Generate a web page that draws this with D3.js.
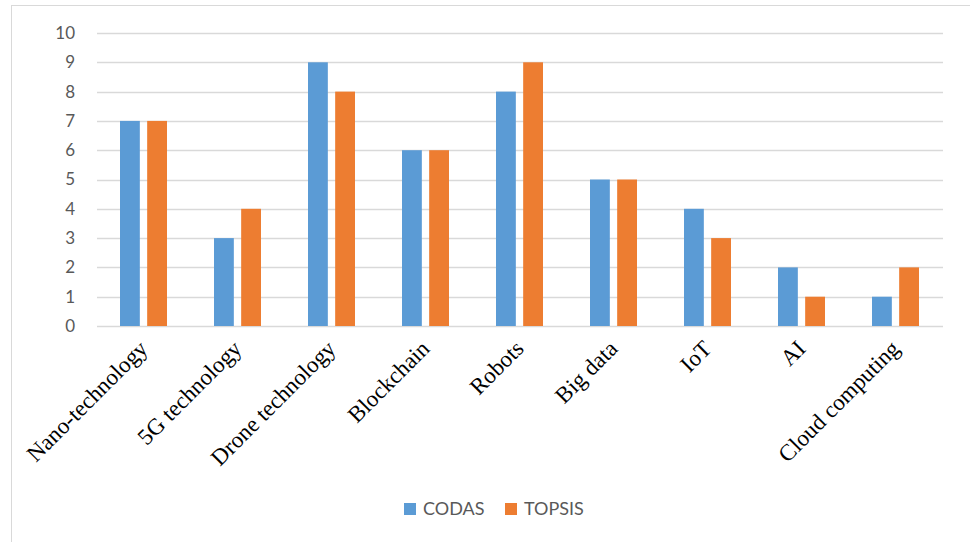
<!DOCTYPE html>
<html>
<head>
<meta charset="utf-8">
<script src="https://cdnjs.cloudflare.com/ajax/libs/d3/7.8.5/d3.min.js"></script>
<style>
  body { margin: 0; background: #fff; }
  svg { display: block; }
</style>
</head>
<body>
<div id="chart"></div>
<script>
var categories = ["Nano-technology", "5G technology", "Drone technology", "Blockchain", "Robots", "Big data", "IoT", "AI", "Cloud computing"];
var seriesNames = ["CODAS", "TOPSIS"];
var codas = [7, 3, 9, 6, 8, 5, 4, 2, 1];
var topsis = [7, 4, 8, 6, 9, 5, 3, 1, 2];
var yTicks = [0, 1, 2, 3, 4, 5, 6, 7, 8, 9, 10];
var colors = ["#5B9BD5", "#ED7D31"];

var width = 970, height = 542;
var margin = { top: 33, left: 97, right: 27, bottom: 216 };

var svg = d3.select("#chart").append("svg")
  .attr("width", width)
  .attr("height", height);

// outer chart border
svg.append("rect")
  .attr("x", 11.5).attr("y", 5.5)
  .attr("width", 1000).attr("height", 600)
  .attr("fill", "none")
  .attr("stroke", "#d9d9d9");

var plotW = width - margin.left - margin.right,
    plotH = height - margin.top - margin.bottom;

var g = svg.append("g")
  .attr("transform", "translate(" + margin.left + "," + margin.top + ")");

var x = d3.scaleBand().domain(categories).range([0, plotW]);
var x1 = d3.scaleBand().domain(seriesNames).range([23, x.bandwidth() - 24]).paddingInner(0.27);
var y = d3.scaleLinear().domain([0, 10]).range([plotH, 0]);

// gridlines
g.selectAll(".grid")
  .data(yTicks)
  .enter().append("line")
  .attr("x1", 0).attr("x2", plotW)
  .attr("y1", function(d) { return Math.round(y(d)) + 0.5; })
  .attr("y2", function(d) { return Math.round(y(d)) + 0.5; })
  .attr("stroke", "#d9d9d9")
  .attr("stroke-width", 1.3);

// y labels
g.selectAll(".ylab")
  .data(yTicks)
  .enter().append("text")
  .attr("x", -22)
  .attr("y", function(d) { return y(d); })
  .attr("dy", "0.35em")
  .attr("text-anchor", "end")
  .attr("font-family", "Lato, 'Open Sans', sans-serif")
  .attr("font-size", 17)
  .attr("fill", "#595959")
  .text(function(d) { return d; });

var data = categories.map(function(c, i) {
  return { cat: c, values: [codas[i], topsis[i]] };
});

var groups = g.selectAll(".grp")
  .data(data)
  .enter().append("g")
  .attr("transform", function(d) { return "translate(" + x(d.cat) + ",0)"; });

groups.selectAll("rect")
  .data(function(d) { return d.values.map(function(v, j) { return { s: seriesNames[j], v: v, j: j }; }); })
  .enter().append("rect")
  .attr("x", function(d) { return x1(d.s); })
  .attr("width", x1.bandwidth())
  .attr("y", function(d) { return y(d.v); })
  .attr("height", function(d) { return plotH - y(d.v); })
  .attr("fill", function(d) { return colors[d.j]; });

// x labels rotated
g.selectAll(".xlab")
  .data(categories)
  .enter().append("text")
  .attr("transform", function(d) {
    return "translate(" + (x(d) + x.bandwidth() / 2 + 5) + "," + (plotH + 24) + ") rotate(-45)";
  })
  .attr("text-anchor", "end")
  .attr("font-family", "'Liberation Serif', 'Times New Roman', serif")
  .attr("font-size", 23)
  .attr("fill", "#000")
  .text(function(d) { return d; });

// legend
var legend = svg.append("g").attr("transform", "translate(404,509)");
var items = [{ name: "CODAS", x: 0 }, { name: "TOPSIS", x: 101 }];
items.forEach(function(it, i) {
  legend.append("rect")
    .attr("x", it.x).attr("y", -6)
    .attr("width", 12).attr("height", 12)
    .attr("fill", colors[i]);
  legend.append("text")
    .attr("x", it.x + 19).attr("y", 0)
    .attr("dy", "0.35em")
    .attr("font-family", "Lato, 'Open Sans', sans-serif")
    .attr("font-size", 18)
    .attr("fill", "#595959")
    .text(it.name);
});
</script>
</body>
</html>
